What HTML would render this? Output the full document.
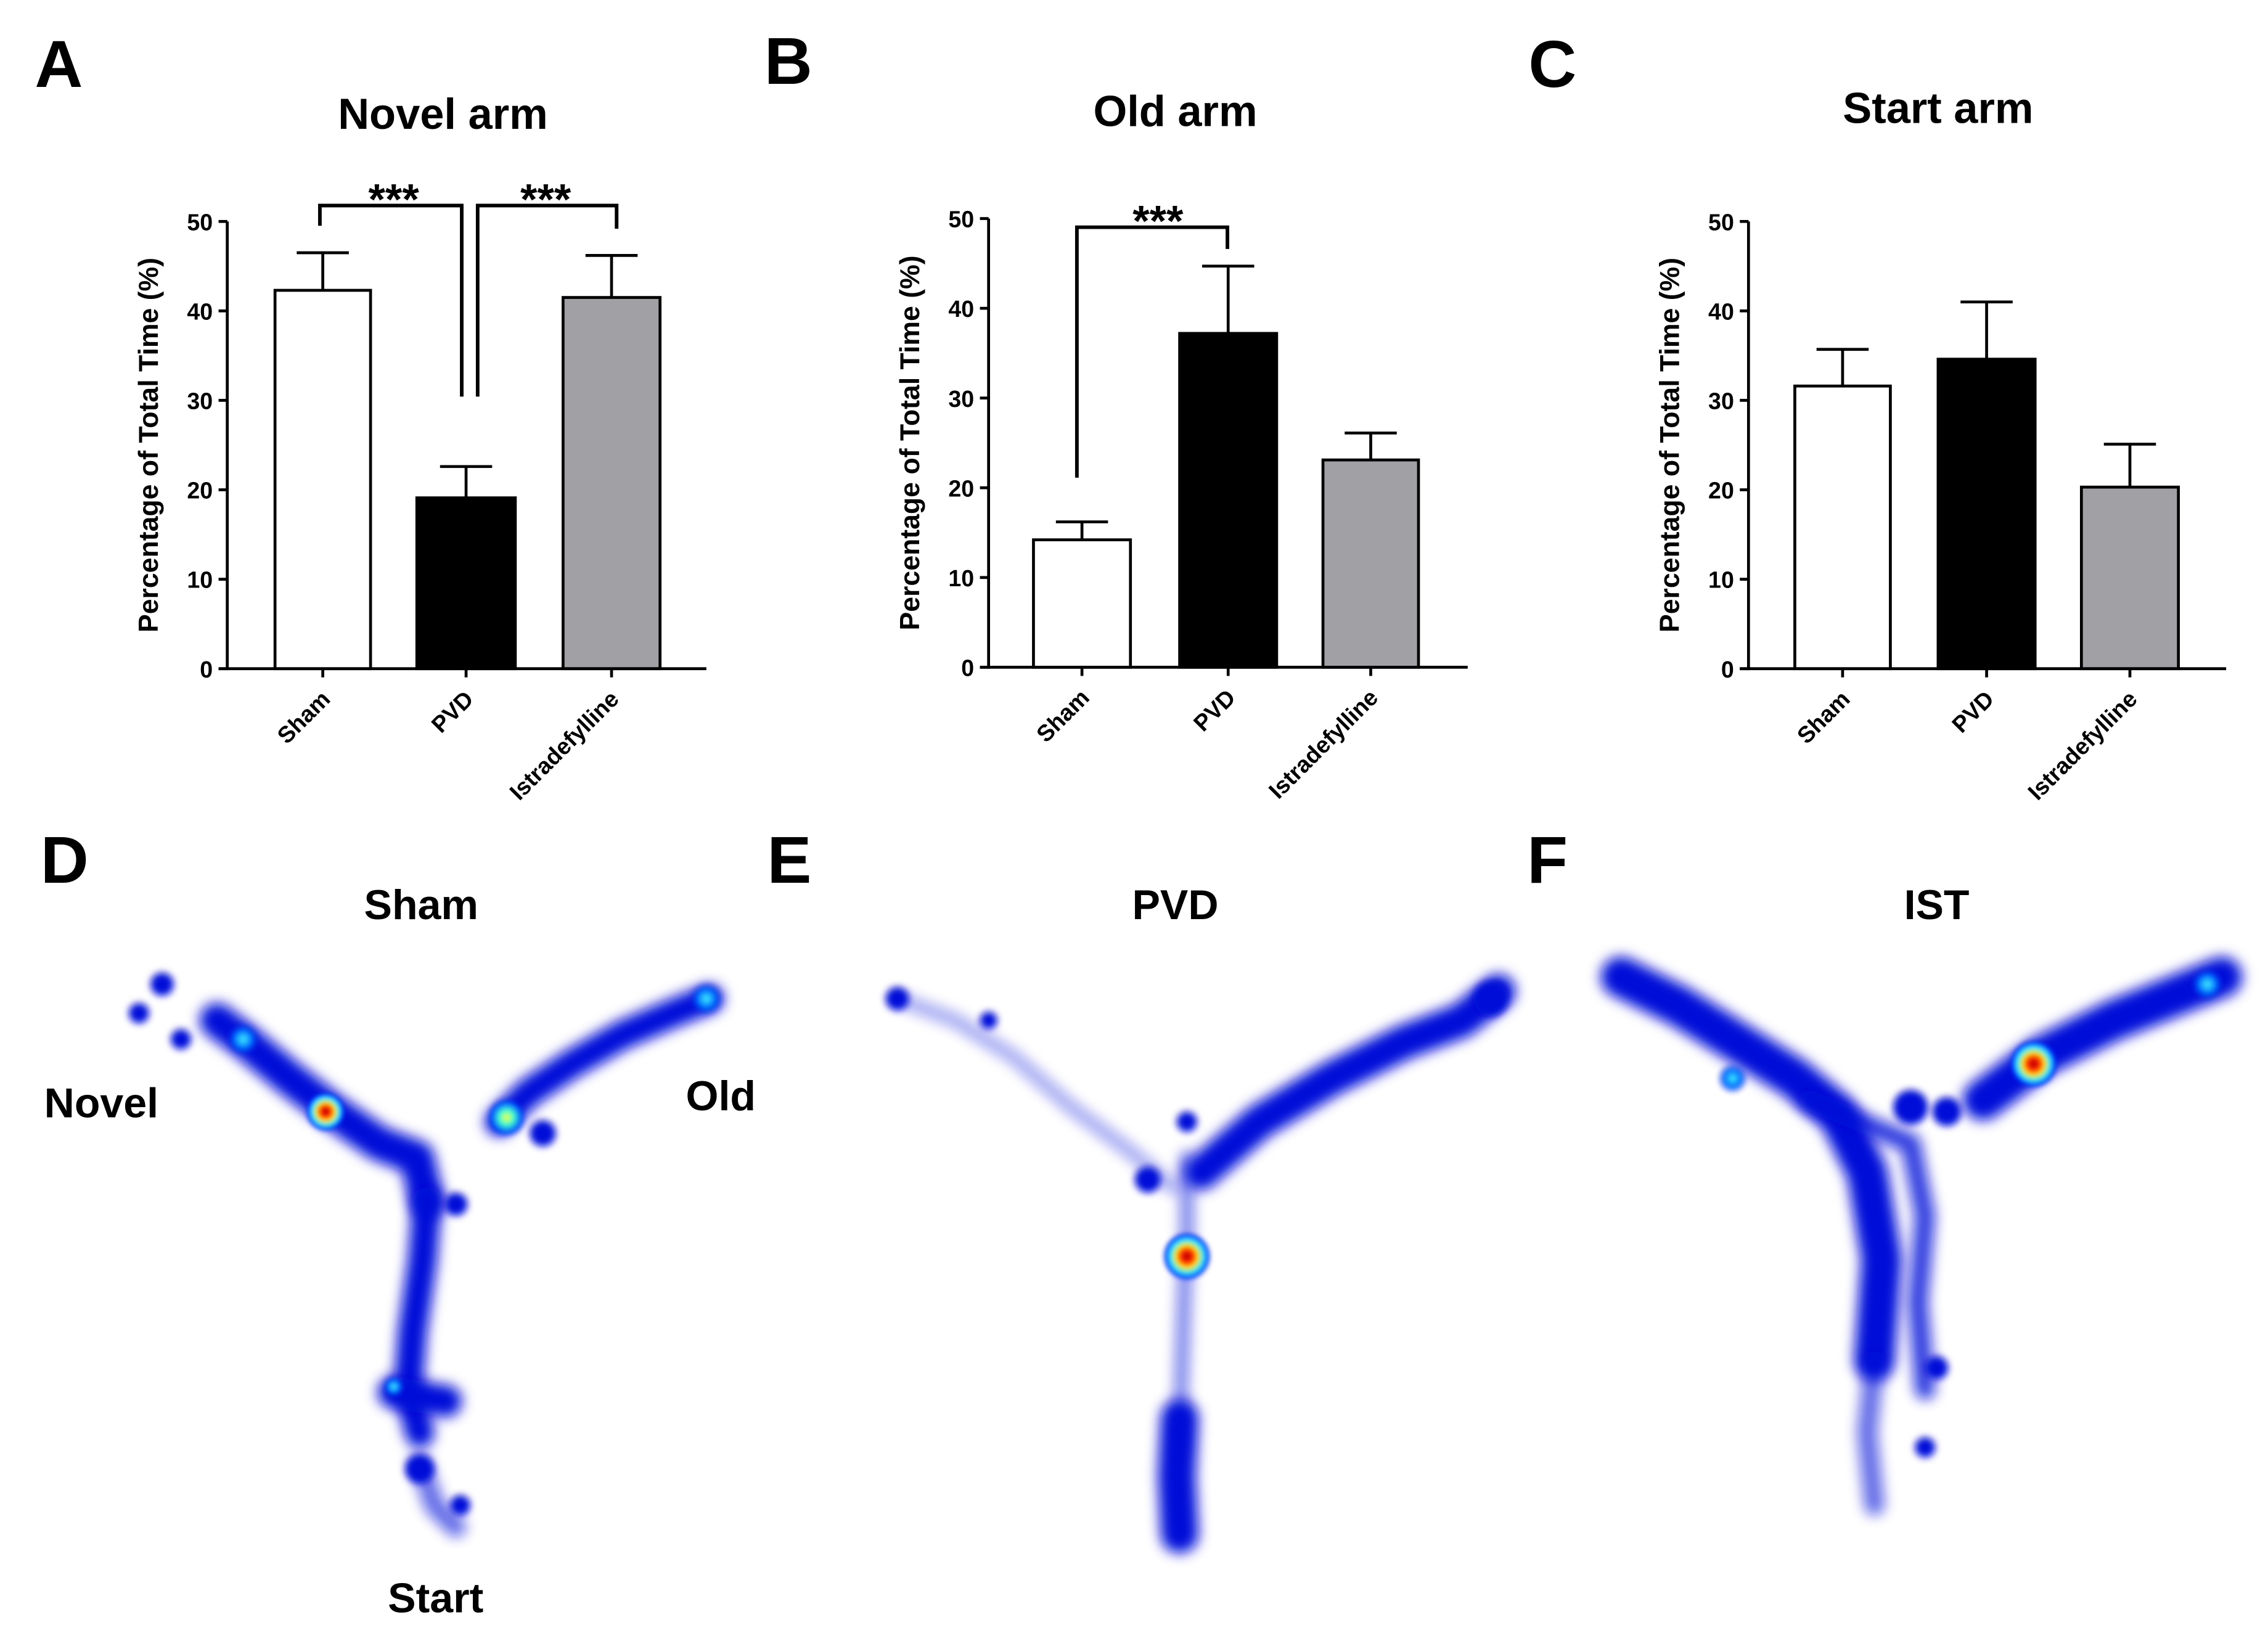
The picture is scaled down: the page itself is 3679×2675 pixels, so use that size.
<!DOCTYPE html>
<html><head><meta charset="utf-8">
<style>
html,body{margin:0;padding:0;background:#fff;}
svg{display:block;}
text{font-family:"Liberation Sans",Arial,sans-serif;font-weight:bold;fill:#000;}
</style></head>
<body>
<svg id="fig" width="3679" height="2675" viewBox="0 0 1566.9 1139.3" xmlns="http://www.w3.org/2000/svg">
<defs>
<filter id="blur" filterUnits="userSpaceOnUse" x="0" y="0" width="1567" height="1140"><feGaussianBlur stdDeviation="4.5"/></filter>
<filter id="blur2" filterUnits="userSpaceOnUse" x="0" y="0" width="1567" height="1140"><feGaussianBlur stdDeviation="2.5"/></filter>
<filter id="blur3" filterUnits="userSpaceOnUse" x="0" y="0" width="1567" height="1140"><feGaussianBlur stdDeviation="1.5"/></filter>
<radialGradient id="hot"><stop offset="0" stop-color="#b00000"/><stop offset="0.25" stop-color="#ff2000"/><stop offset="0.45" stop-color="#ffe000"/><stop offset="0.65" stop-color="#30f0ff"/><stop offset="0.85" stop-color="#0040ff"/><stop offset="1" stop-color="#0010e0" stop-opacity="0"/></radialGradient>
<radialGradient id="warm"><stop offset="0" stop-color="#ffff40"/><stop offset="0.35" stop-color="#40ffd0"/><stop offset="0.7" stop-color="#0060ff"/><stop offset="1" stop-color="#0010e0" stop-opacity="0"/></radialGradient>
<radialGradient id="cool"><stop offset="0" stop-color="#40f0ff"/><stop offset="0.5" stop-color="#0070ff"/><stop offset="1" stop-color="#0010e0" stop-opacity="0"/></radialGradient>
</defs>
<g id="charts"></g>
<g id="heat"></g>
</svg>
<script>
// ---- Chart data ----
const categories = ["Sham", "PVD", "Istradefylline"];
const novelMeans = [42.3, 19.1, 41.5];
const novelErrors = [4.2, 3.5, 4.7];
const oldMeans = [14.2, 37.2, 23.1];
const oldErrors = [2.0, 7.5, 3.0];
const startMeans = [31.6, 34.6, 20.3];
const startErrors = [4.1, 6.4, 4.8];
const yTicks = [0, 10, 20, 30, 40, 50];
const titles = ["Novel arm", "Old arm", "Start arm"];
const panelLetters = ["A", "B", "C"];
const barFills = ["#ffffff", "#000000", "#a1a1a5"];

const NS = "http://www.w3.org/2000/svg";
function mk(tag, attrs, parent, txt){
  const e = document.createElementNS(NS, tag);
  for (const k in attrs) e.setAttribute(k, attrs[k]);
  if (txt !== undefined) e.textContent = txt;
  parent.appendChild(e);
  return e;
}
const charts = document.getElementById('charts');

const panels = [
  {ax:157, y0:462, y50:153, xEnd:488, bars:[[190,256],[288,356],[389,456]], means:novelMeans, errs:novelErrors, titleX:306, titleY:89, letterX:24, letterY:60, ylabX:109},
  {ax:683, y0:461, y50:151, xEnd:1014, bars:[[714,781],[815,882],[914,980]], means:oldMeans, errs:oldErrors, titleX:812, titleY:87, letterX:528, letterY:58, ylabX:635},
  {ax:1208, y0:462, y50:153, xEnd:1538, bars:[[1240,1306],[1339,1406],[1438,1505]], means:startMeans, errs:startErrors, titleX:1339, titleY:85, letterX:1056, letterY:60, ylabX:1160}
];

panels.forEach((p, pi) => {
  const g = mk('g', {}, charts);
  
  
  const y = v => p.y0 + (p.y50 - p.y0) * v / 50;
  const L = mk('text', {x:p.letterX, y:p.letterY, 'font-size':46}, g, panelLetters[pi]);
  
  
  const T = mk('text', {x:p.titleX, y:p.titleY, 'font-size':30, 'text-anchor':'middle'}, g, titles[pi]);
  
  
  const YL = mk('text', {x:0, y:0, 'font-size':19, 'text-anchor':'middle', transform:`translate(${p.ylabX},${(p.y0+p.y50)/2}) rotate(-90)`}, g, "Percentage of Total Time (%)");
  
  
  p.bars.forEach((b, i) => {
    const cx = (b[0] + b[1]) / 2;
    const top = y(p.means[i]), et = y(p.means[i] + p.errs[i]);
    const eb = mk('line', {x1:cx, x2:cx, y1:top, y2:et, stroke:'#000', 'stroke-width':2}, g);
    
    
    mk('line', {x1:cx-18, x2:cx+18, y1:et, y2:et, stroke:'#000', 'stroke-width':2}, g);
    const r = mk('rect', {x:b[0], y:top, width:b[1]-b[0], height:p.y0-top, fill:barFills[i], stroke:'#000', 'stroke-width':2}, g);
    
    
    mk('line', {x1:cx, x2:cx, y1:p.y0, y2:p.y0+6, stroke:'#000', 'stroke-width':2}, g);
    const cl = mk('text', {x:0, y:0, 'font-size':16, 'text-anchor':'end', transform:`translate(${cx+6},${p.y0+22}) rotate(-45)`}, g, categories[i]);
    
    
  });
  const ya = mk('line', {x1:p.ax, x2:p.ax, y1:p.y50, y2:p.y0+1, stroke:'#000', 'stroke-width':2}, g);
  
  
  const xa = mk('line', {x1:p.ax-6, x2:p.xEnd, y1:p.y0, y2:p.y0, stroke:'#000', 'stroke-width':2}, g);
  
  
  yTicks.forEach(t => {
    mk('line', {x1:p.ax-6, x2:p.ax, y1:y(t), y2:y(t), stroke:'#000', 'stroke-width':2}, g);
    const tl = mk('text', {x:p.ax-10, y:y(t)+6, 'font-size':16, 'text-anchor':'end'}, g, String(t));
    
    
  });
});

function bracket(x1, x2, yTop, yL, yR, sx, sy){
  const b = mk('path', {d:`M${x1},${yL} V${yTop} H${x2} V${yR}`, fill:'none', stroke:'#000', 'stroke-width':2.5}, charts);
  
  
  const s = mk('text', {x:sx, y:sy, 'font-size':30, 'text-anchor':'middle'}, charts, '***');
  
  
}
bracket(221, 319, 142, 156, 274, 272, 148);
bracket(330, 426, 142, 274, 158, 377, 148);
bracket(744, 848, 157, 330, 172, 800, 163);

// ---- Heatmaps ----
const heat = document.getElementById('heat');
const heatLabels = [
  ["D",28,610,46,"start"],["Sham",291,635,29,"middle"],["Novel",70,772,29,"middle"],["Old",498,767,29,"middle"],["Start",301,1114,29,"middle"],
  ["E",530,610,46,"start"],["PVD",812,635,29,"middle"],
  ["F",1055,610,46,"start"],["IST",1338,635,29,"middle"]
];
heatLabels.forEach(l => {
  const t = mk('text', {x:l[1], y:l[2], 'font-size':l[3], 'text-anchor':l[4]}, heat, l[0]);
  
  
});
function trail(pts, w, op, parent){
  const d = 'M' + pts.map(p => p.join(',')).join(' L');
  mk('path', {d:d, fill:'none', stroke:'#0008d8', 'stroke-width':w, 'stroke-linecap':'round', 'stroke-linejoin':'round', opacity:op, filter:'url(#blur)'}, parent);
}
function blob(x, y, r, parent, grad, op){
  mk('circle', {cx:x, cy:y, r:r, fill: grad ? `url(#${grad})` : '#0008d8', opacity: op || 1, filter: grad ? 'url(#blur3)' : 'url(#blur2)'}, parent);
}
// D
const hD = mk('g', {}, heat);  
trail([[150,705],[170,720],[200,745],[230,768],[262,790],[288,800],[295,830]], 24, 1, hD);
trail([[295,830],[292,870],[285,920],[282,960],[290,990]], 20, 1, hD);
trail([[272,962],[308,968]], 22, 1, hD);
trail([[290,1010],[300,1040],[315,1055]], 14, 0.6, hD);
trail([[345,775],[365,755],[395,735],[430,715],[465,700],[490,690]], 20, 1, hD);
blob(112,680,8,hD); blob(96,700,7,hD); blob(125,718,7,hD); blob(290,1015,10,hD); blob(318,1040,7,hD); blob(375,783,9,hD); blob(315,832,8,hD);
blob(225,768,14,hD,'hot'); blob(350,772,14,hD,'warm'); blob(168,718,12,hD,'cool'); blob(488,690,12,hD,'cool'); blob(272,958,8,hD,'cool');
// E
const hE = mk('g', {}, heat);  
trail([[620,690],[660,705],[700,730],[740,765],[780,795],[810,820]], 10, 0.35, hE);
trail([[830,810],[870,775],[920,745],[970,720],[1010,705],[1035,685]], 24, 1, hE);
trail([[820,800],[820,850],[818,900],[816,960],[815,1000]], 10, 0.5, hE);
trail([[815,980],[813,1020],[815,1060]], 26, 1, hE);
blob(620,690,8,hE); blob(683,705,6,hE); blob(793,815,9,hE); blob(820,775,7,hE); blob(1030,690,12,hE);
blob(820,868,17,hE,'hot');
// F
const hF = mk('g', {}, heat);  
trail([[1120,675],[1160,695],[1200,720],[1240,745],[1270,770],[1290,810],[1300,870],[1295,940]], 28, 1, hF);
trail([[1250,760],[1320,790],[1330,840],[1325,900],[1330,960]], 14, 0.8, hF);
trail([[1295,940],[1290,990],[1295,1040]], 14, 0.6, hF);
trail([[1370,760],[1410,730],[1460,705],[1510,685],[1535,675]], 28, 1, hF);
blob(1320,765,12,hF); blob(1345,768,10,hF); blob(1338,945,8,hF); blob(1330,1000,7,hF);
blob(1405,735,17,hF,'hot'); blob(1197,745,11,hF,'cool'); blob(1525,680,12,hF,'cool');
</script>
</body></html>
